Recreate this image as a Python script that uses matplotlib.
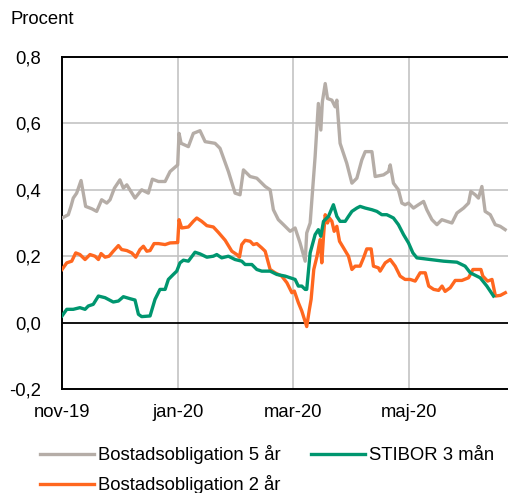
import matplotlib
matplotlib.use("Agg")
import matplotlib.pyplot as plt
import matplotlib.dates as mdates
from matplotlib.ticker import FixedLocator, FuncFormatter
import pandas as pd

plt.rcParams['font.family'] = ['Liberation Sans', 'DejaVu Sans']

# ---- data (days after 2019-11-01, value in percent) ----
base_date = "2019-11-01"

days_5y = [0, 3.3, 4.7, 5.9, 7.7, 10, 12.4, 15.6, 18.2, 20.8, 23.5, 25.2, 27.5, 30.4, 32.2, 34,
           38.3, 41.8, 45.3, 47.4, 50.6, 54.1, 56.7, 59.7, 60.7, 61.4, 62.5, 66.3, 68.9, 72.4,
           75.1, 80.3, 82.9, 87.3, 90.8, 93.4, 95.2, 98.7, 102.2, 106.6, 109.2, 110.9, 113.5,
           116.2, 119.7, 122.3, 124.9, 127.6, 128.4, 130.2, 131.1, 132.8, 134.5, 135.8, 136.6,
           138.1, 139.3, 141.6, 143.3, 144.2, 145.9, 149.4, 152.1, 154.7, 157.3, 159.1, 162.6,
           164.3, 168.7, 171.3, 172.2, 173.9, 176.5, 178.3, 180, 181.8, 184.4, 187, 189.7,
           191.4, 194.1, 196.7, 199.3, 201.9, 204.6, 207.2, 210.7, 213.3, 214.5, 216.8, 218.5,
           220.3, 222, 224.7, 227.3, 229.9, 232.5]
vals_5y = [0.315, 0.325, 0.35, 0.375, 0.39, 0.428, 0.35, 0.343, 0.335, 0.37, 0.36, 0.37, 0.405,
           0.43, 0.405, 0.415, 0.375, 0.40, 0.39, 0.432, 0.425, 0.425, 0.455, 0.47, 0.475, 0.57,
           0.54, 0.53, 0.57, 0.578, 0.545, 0.54, 0.525, 0.455, 0.39, 0.385, 0.46, 0.44, 0.435,
           0.41, 0.40, 0.34, 0.31, 0.295, 0.275, 0.285, 0.24, 0.185, 0.27, 0.30, 0.37, 0.50,
           0.66, 0.58, 0.665, 0.72, 0.675, 0.67, 0.65, 0.67, 0.54, 0.48, 0.42, 0.435, 0.49,
           0.515, 0.515, 0.44, 0.445, 0.455, 0.475, 0.42, 0.40, 0.36, 0.355, 0.36, 0.345, 0.355,
           0.365, 0.34, 0.31, 0.295, 0.31, 0.305, 0.30, 0.33, 0.345, 0.36, 0.395, 0.385, 0.375,
           0.41, 0.335, 0.325, 0.295, 0.29, 0.28]

days_2y = [0, 2.5, 5.1, 7.2, 9.4, 12.1, 14.7, 17.3, 19.1, 20.5, 22.6, 24.7, 26.9, 29.6, 31.3,
           34, 36.6, 38.7, 40.9, 42.7, 44.5, 46.2, 48.3, 50.6, 54.1, 56.7, 60.7, 61.4, 62.8,
           66.3, 68.9, 70.7, 73.3, 76, 79.4, 82, 85.6, 89.1, 91.7, 93.1, 94.3, 96.1, 98.7,
           100.4, 102.2, 104.8, 106.6, 109.2, 111.8, 115.3, 118, 120.6, 121.9, 124, 125.8,
           128.4, 129.8, 130.7, 132.1, 133.8, 135.4, 136.3, 137.2, 138.1, 139.3, 140.3, 141.6,
           142.8, 144.2, 145.6, 147.7, 150.3, 152.1, 153.8, 156.4, 158.2, 159.9, 162.2, 163.4,
           166, 166.9, 169.6, 172.2, 174.8, 177.4, 180, 182.7, 185.3, 187.9, 190.6, 192.4, 195,
           197.6, 199.4, 201, 203.7, 206.3, 209.8, 213.3, 215.6, 219.8, 220.8, 223.3, 225.6,
           227.4, 230, 232.6]
vals_2y = [0.16, 0.18, 0.185, 0.21, 0.205, 0.19, 0.205, 0.20, 0.19, 0.208, 0.197, 0.20, 0.215,
           0.232, 0.22, 0.217, 0.21, 0.197, 0.22, 0.23, 0.215, 0.217, 0.238, 0.238, 0.235, 0.24,
           0.241, 0.31, 0.285, 0.288, 0.305, 0.315, 0.305, 0.292, 0.288, 0.272, 0.248, 0.215,
           0.205, 0.197, 0.235, 0.248, 0.245, 0.235, 0.238, 0.225, 0.215, 0.16, 0.15, 0.14,
           0.12, 0.09, 0.095, 0.06, 0.035, -0.012, 0.04, 0.07, 0.16, 0.20, 0.25, 0.18, 0.26,
           0.325, 0.30, 0.315, 0.305, 0.275, 0.29, 0.245, 0.225, 0.20, 0.16, 0.17, 0.17, 0.195,
           0.222, 0.222, 0.17, 0.165, 0.155, 0.18, 0.19, 0.17, 0.14, 0.13, 0.13, 0.125, 0.15,
           0.15, 0.11, 0.10, 0.097, 0.11, 0.094, 0.105, 0.127, 0.127, 0.135, 0.16, 0.16, 0.14,
           0.125, 0.13, 0.08, 0.082, 0.09]

days_stibor = [0, 2.5, 5.9, 9.4, 12.1, 13.8, 16.4, 19.1, 22.6, 26.9, 29.6, 32.2, 35.7, 38.3,
               40.1, 41.8, 46.2, 48.8, 51.4, 54.1, 55.8, 58.4, 60.2, 61.9, 63.7, 66.3, 69.8,
               72.4, 76, 79.4, 81.2, 83.8, 87.3, 90.8, 94.3, 96.1, 99.6, 102.2, 104.8, 109.2,
               112.7, 117.1, 119.7, 122.3, 124, 125.8, 127.6, 128.4, 130.2, 132.8, 134.5, 135.8,
               137.2, 139.8, 142.4, 144.2, 145.9, 148.6, 150.3, 152.1, 154.7, 156.4, 159.1,
               162.6, 165.2, 167.8, 170.4, 172.2, 173.9, 176.5, 179.2, 181.8, 184.1, 186.2,
               193.2, 200.2, 207.2, 211.5, 214.2, 219.4, 222.9, 226.4]
vals_stibor = [0.02, 0.04, 0.04, 0.045, 0.04, 0.05, 0.055, 0.08, 0.075, 0.062, 0.065, 0.078,
               0.072, 0.068, 0.025, 0.018, 0.02, 0.07, 0.10, 0.10, 0.13, 0.145, 0.155, 0.18,
               0.188, 0.185, 0.212, 0.207, 0.197, 0.20, 0.205, 0.195, 0.20, 0.19, 0.185, 0.175,
               0.175, 0.16, 0.155, 0.155, 0.145, 0.14, 0.135, 0.13, 0.11, 0.11, 0.10, 0.10,
               0.21, 0.265, 0.28, 0.26, 0.305, 0.32, 0.355, 0.32, 0.305, 0.305, 0.32, 0.335,
               0.345, 0.35, 0.345, 0.34, 0.335, 0.325, 0.325, 0.32, 0.315, 0.295, 0.265, 0.24,
               0.21, 0.195, 0.19, 0.185, 0.182, 0.17, 0.15, 0.135, 0.11, 0.08]

labels = ["Bostadsobligation 5 år", "Bostadsobligation 2 år", "STIBOR 3 mån"]
colors = ["#b5ada7", "#ff671f", "#00966f"]

y_ticks = [-0.2, 0.0, 0.2, 0.4, 0.6, 0.8]
x_ticks = ["2019-11-01", "2020-01-01", "2020-03-01", "2020-05-01"]
x_tick_labels = ["nov-19", "jan-20", "mar-20", "maj-20"]
y_label = "Procent"

# ---- figure ----
fig = plt.figure(figsize=(5.08, 4.93), dpi=100)
ax = fig.add_axes([62 / 508, 1 - 389 / 493, 446 / 508, 332 / 493])

b = pd.Timestamp(base_date)
def to_dates(d):
    return b + pd.to_timedelta(d, unit="D")

series = [(days_5y, vals_5y), (days_2y, vals_2y), (days_stibor, vals_stibor)]
handles = []
for (d, v), lab, col in zip(series, labels, colors):
    h, = ax.plot(to_dates(d), v, color=col, lw=2.4, label=lab, zorder=3,
                 solid_joinstyle="round")
    handles.append(h)

ax.set_ylim(-0.2, 0.8)
ax.set_xlim(pd.Timestamp("2019-11-01"), pd.Timestamp("2019-11-01") + pd.Timedelta(days=234))

ax.yaxis.set_major_locator(FixedLocator(y_ticks))
ax.yaxis.set_major_formatter(FuncFormatter(lambda v, p: f"{v:.1f}".replace(".", ",")))
xt = [mdates.date2num(pd.Timestamp(t)) for t in x_ticks]
ax.set_xticks(xt)
ax.set_xticklabels(x_tick_labels)

ax.tick_params(axis="both", length=0, labelsize=13.3, colors="black")
ax.tick_params(axis="y", pad=15)
ax.tick_params(axis="x", pad=11)

# grid
for yv in [0.2, 0.4, 0.6]:
    ax.axhline(yv, color="#c3c3c3", lw=1.2, zorder=1)
for t in xt[1:]:
    ax.axvline(t, color="#c3c3c3", lw=1.2, zorder=1)
ax.axhline(0.0, color="black", lw=1.3, zorder=2)

for s in ["left", "top", "bottom"]:
    ax.spines[s].set_linewidth(1.4)
    ax.spines[s].set_color("black")
ax.spines["right"].set_visible(False)

fig.text(11 / 508, 1 - 20 / 493, y_label, fontsize=13.3, va="center", ha="left")

fig.legend(handles=handles, labels=labels, ncol=2, loc="upper left",
           bbox_to_anchor=(40 / 508, 1 - 445 / 493), frameon=False, fontsize=13.3,
           borderpad=0, borderaxespad=0, handlelength=2.9, handletextpad=0.25,
           columnspacing=1.65, labelspacing=0.62)

fig.savefig("out.png", dpi=100)
